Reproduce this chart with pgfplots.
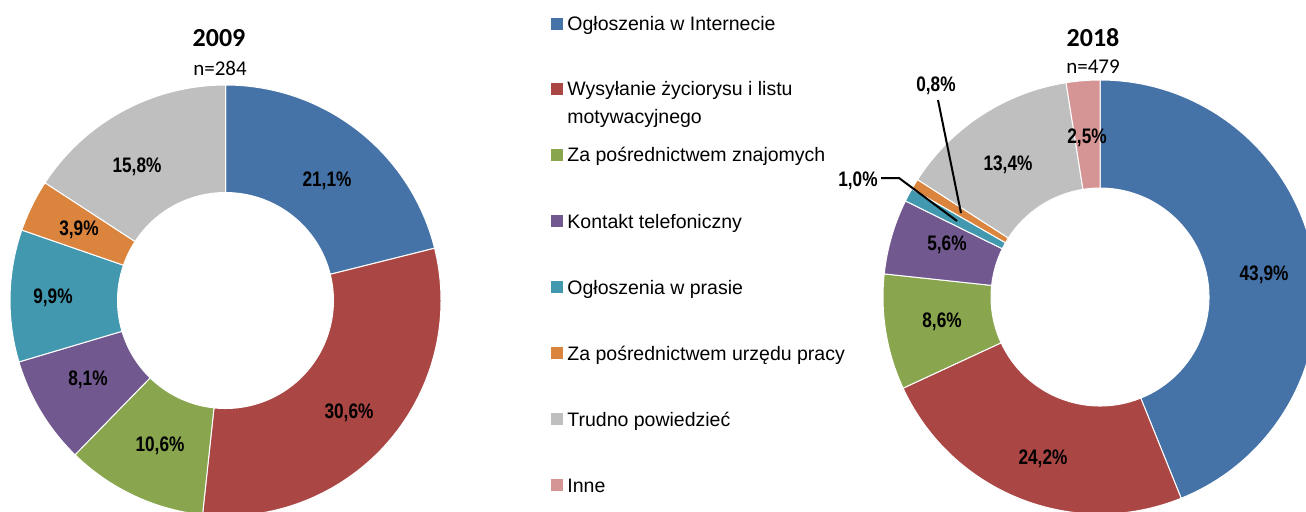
\documentclass[border=0pt]{standalone}
\usepackage{pgfplots}
\pgfplotsset{compat=1.18}
\usepackage{fontspec}
\setmainfont{Liberation Sans}
\newfontfamily\calib{Carlito}
\newfontfamily\lblfont[FakeStretch=0.82]{Liberation Sans}

\definecolor{cBlue}{HTML}{4572A7}
\definecolor{cRed}{HTML}{AA4643}
\definecolor{cGreen}{HTML}{89A54E}
\definecolor{cPurple}{HTML}{71588F}
\definecolor{cTeal}{HTML}{4198AF}
\definecolor{cOrange}{HTML}{DB843D}
\definecolor{cGray}{HTML}{BFBFBF}
\definecolor{cPink}{HTML}{D59594}

% data: value / colour
\def\dataA{21.1/cBlue, 30.6/cRed, 10.6/cGreen, 8.1/cPurple, 9.9/cTeal, 3.9/cOrange, 15.8/cGray}
\def\dataB{43.9/cBlue, 24.2/cRed, 8.6/cGreen, 5.6/cPurple, 1.0/cTeal, 0.8/cOrange, 13.4/cGray, 2.5/cPink}

% one ring segment: cx cy R r a1 a2 colour
\newcommand\seg[7]{%
  \fill[#7, draw=white, line width=0.5pt]
    (axis cs:{#1+#3*cos(#5)},{#2-#3*sin(#5)})
    arc[start angle=#5, end angle=#6, radius=#3*0.5pt]
    -- (axis cs:{#1+#4*cos(#6)},{#2-#4*sin(#6)})
    arc[start angle=#6, end angle=#5, radius=#4*0.5pt] -- cycle;}

\newcommand\donut[5]{%
  \gdef\cumsum{0}%
  \foreach \v/\c in #5 {%
    \pgfmathsetmacro\aone{90-3.6*\cumsum}%
    \pgfmathsetmacro\newcum{\cumsum+\v}%
    \xdef\cumsum{\newcum}%
    \pgfmathsetmacro\atwo{90-3.6*\cumsum}%
    \edef\temp{\noexpand\seg{#1}{#2}{#3}{#4}{\aone}{\atwo}{\c}}%
    \temp
  }%
}

\newcommand\lbl[3]{\node[font=\lblfont\bfseries\fontsize{10.5}{12}\selectfont, inner sep=0pt] at (axis cs:#1,#2) {#3};}
\newcommand\leg[3]{%
  \fill[#3] (axis cs:551,{#1-13}) rectangle (axis cs:563,{#1-1});
  \node[anchor=base west, inner sep=0pt, font=\fontsize{9.75}{11}\selectfont] at (axis cs:567,#1) {#2};}

\begin{document}
\begin{tikzpicture}
\begin{axis}[name=ax, x=0.5pt, y=0.5pt, xmin=0, xmax=1306, ymin=0, ymax=511,
  y dir=reverse, hide axis, clip=true]

\donut{225.5}{300.5}{215.5}{108}{\dataA}
\donut{1100}{297}{217}{109}{\dataB}

% titles
\node[font=\calib\bfseries\fontsize{13}{15}\selectfont, inner sep=0pt] at (axis cs:219,38) {2009};
\node[font=\calib\fontsize{10.5}{12}\selectfont, inner sep=0pt] at (axis cs:220,68) {n=284};
\node[font=\calib\bfseries\fontsize{13}{15}\selectfont, inner sep=0pt] at (axis cs:1093,38) {2018};
\node[font=\calib\fontsize{10.5}{12}\selectfont, inner sep=0pt] at (axis cs:1093,67) {n=479};

% labels 2009
\lbl{327}{181}{21,1\%}
\lbl{349}{413}{30,6\%}
\lbl{160}{446}{10,6\%}
\lbl{88}{380}{8,1\%}
\lbl{53}{298}{9,9\%}
\lbl{79}{230}{3,9\%}
\lbl{137}{167}{15,8\%}

% labels 2018
\lbl{1264}{275}{43,9\%}
\lbl{1043}{459}{24,2\%}
\lbl{942}{322}{8,6\%}
\lbl{947}{245}{5,6\%}
\lbl{1008}{165}{13,4\%}
\lbl{1087}{138}{2,5\%}
\lbl{936}{86}{0,8\%}
\lbl{858}{181}{1,0\%}
\draw[black, line width=1pt] (axis cs:938,100) -- (axis cs:961,213);
\draw[black, line width=1pt] (axis cs:881,178) -- (axis cs:899,178) -- (axis cs:957,221);

% legend
\leg{30.5}{Ogłoszenia w Internecie}{cBlue}
\leg{95.5}{Wysyłanie życiorysu i listu}{cRed}
\node[anchor=base west, inner sep=0pt, font=\fontsize{9.75}{11}\selectfont] at (axis cs:567,123) {motywacyjnego};
\leg{161.5}{Za pośrednictwem znajomych}{cGreen}
\leg{228}{Kontakt telefoniczny}{cPurple}
\leg{294}{Ogłoszenia w prasie}{cTeal}
\leg{360}{Za pośrednictwem urzędu pracy}{cOrange}
\leg{426}{Trudno powiedzieć}{cGray}
\leg{492}{Inne}{cPink}
\end{axis}
\pgfresetboundingbox
\path (ax.south west) rectangle (ax.north east);
\end{tikzpicture}
\end{document}
